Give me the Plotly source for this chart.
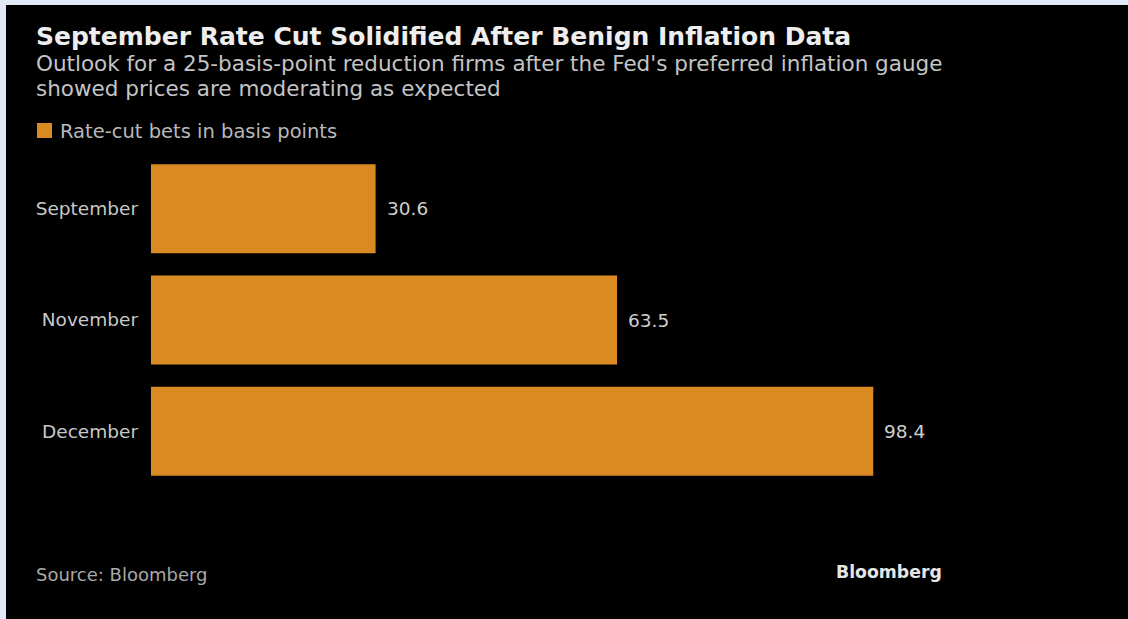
import plotly.graph_objects as go

categories = ["September", "November", "December"]
values = [30.6, 63.5, 98.4]
value_labels = ["30.6", "63.5", "98.4"]
series_name = "Rate-cut bets in basis points"

title = "September Rate Cut Solidified After Benign Inflation Data"
subtitle_lines = [
    "Outlook for a 25-basis-point reduction firms after the Fed's preferred inflation gauge",
    "showed prices are moderating as expected",
]
source = "Source: Bloomberg"
brand = "Bloomberg"

W, H = 1128, 619
L, R, T, B = 151, 177, 153, 132
PW, PH = W - L - R, H - T - B

def px(x):
    return (x - L) / PW

def py(y):
    return (H - B - y) / PH

ORANGE = "#DA8A23"
FONT = "DejaVu Sans"

fig = go.Figure()
fig.add_trace(go.Bar(
    y=categories, x=values, orientation="h",
    marker=dict(color=ORANGE, line=dict(width=0)),
    name=series_name, showlegend=False, hoverinfo="skip",
))

annotations = []
for c, v, t in zip(categories, values, value_labels):
    annotations.append(dict(x=v, y=c, xref="x", yref="y", text=t, showarrow=False,
                            xanchor="left", yanchor="middle", xshift=9,
                            font=dict(family=FONT, size=18.5, color="#cfcfcf")))

annotations.append(dict(x=px(34), y=py(37), xref="paper", yref="paper", text="<b>" + title + "</b>",
                        showarrow=False, xanchor="left", yanchor="middle",
                        font=dict(family=FONT, size=25, color="#eeeeee")))
for i, line in enumerate(subtitle_lines):
    annotations.append(dict(x=px(34), y=py(64 + 24 * i), xref="paper", yref="paper", text=line,
                            showarrow=False, xanchor="left", yanchor="middle",
                            font=dict(family=FONT, size=21.5, color="#c4c4c4")))
annotations.append(dict(x=px(58), y=py(131), xref="paper", yref="paper", text=series_name,
                        showarrow=False, xanchor="left", yanchor="middle",
                        font=dict(family=FONT, size=19.5, color="#b8b8b8")))
annotations.append(dict(x=px(34), y=py(574), xref="paper", yref="paper", text=source,
                        showarrow=False, xanchor="left", yanchor="middle",
                        font=dict(family=FONT, size=18, color="#a8a8a8")))
annotations.append(dict(x=px(944), y=py(572), xref="paper", yref="paper", text="<b>" + brand + "</b>",
                        showarrow=False, xanchor="right", yanchor="middle",
                        font=dict(family=FONT, size=17.3, color="#e6e6e6")))

shapes = [
    dict(type="rect", xref="paper", yref="paper", x0=px(37), x1=px(52), y0=py(123), y1=py(138),
         fillcolor=ORANGE, line=dict(width=0)),
    dict(type="rect", xref="paper", yref="paper", x0=px(0), x1=px(W), y0=py(0), y1=py(5),
         fillcolor="#dfeaf6", line=dict(width=0), layer="above"),
    dict(type="rect", xref="paper", yref="paper", x0=px(0), x1=px(6), y0=py(0), y1=py(H),
         fillcolor="#dfeaf6", line=dict(width=0), layer="above"),
]

fig.update_layout(
    width=W, height=H,
    margin=dict(l=L, r=R, t=T, b=B, pad=0),
    paper_bgcolor="#000000", plot_bgcolor="#000000",
    bargap=0.2,
    xaxis=dict(range=[0, PW / 7.34], showgrid=False, zeroline=False, showticklabels=False,
               showline=False, fixedrange=True),
    yaxis=dict(autorange="reversed", showgrid=False, zeroline=False, showline=False,
               ticks="", ticklabelstandoff=12,
               tickfont=dict(family=FONT, size=18.5, color="#c8c8c8")),
    annotations=annotations, shapes=shapes,
    showlegend=False,
)

fig.write_html("out.html", config={"displayModeBar": False})
